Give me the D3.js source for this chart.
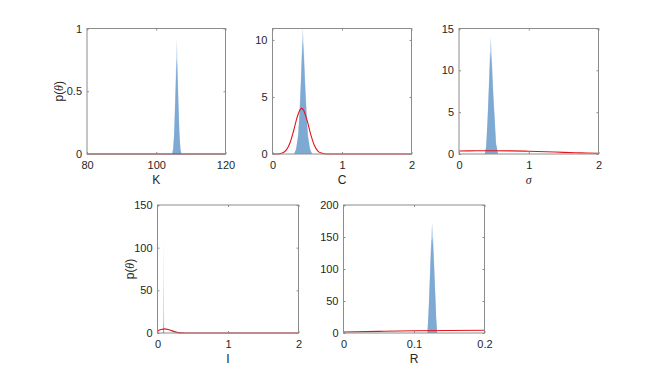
<!DOCTYPE html>
<html>
<head>
<meta charset="utf-8">
<script src="https://cdn.jsdelivr.net/npm/d3@7"></script>
<style>
  body { margin: 0; background: #fff; }
  text { font-family: "Liberation Sans", Arial, sans-serif; fill: #262626; }
  .tick line { stroke: #8c8c8c; }
</style>
</head>
<body>
<div id="chart"></div>
<script>
// parameter names and axis setup
let names = ["K", "C", "σ", "I", "R"];
let xDomains = [[80, 120], [0, 2], [0, 2], [0, 2], [0, 0.2]];
let yDomains = [[0, 1], [0, 11], [0, 15], [0, 150], [0, 200]];
let xTicks = [[80, 100, 120], [0, 1, 2], [0, 1, 2], [0, 1, 2], [0, 0.1, 0.2]];
let yTicks = [[0, 0.5, 1], [0, 5, 10], [0, 5, 10, 15], [0, 50, 100, 150], [0, 50, 100, 150, 200]];
let showYLabel = [true, false, false, true, false];

// posterior histograms (light = tallest spikes, solid = bulk)
let postX = [
  [104.6, 104.9, 105.2, 105.5, 105.8, 105.95, 106.1, 106.4, 106.7, 107.0, 107.3],
  [0.31, 0.34, 0.37, 0.39, 0.41, 0.425, 0.436, 0.45, 0.47, 0.49, 0.51, 0.54, 0.57],
  [0.37, 0.39, 0.41, 0.43, 0.445, 0.455, 0.47, 0.49, 0.51, 0.53, 0.56],
  [0.076, 0.082, 0.086, 0.09, 0.096],
  [0.119, 0.1205, 0.122, 0.1235, 0.1248, 0.1258, 0.127, 0.1285, 0.13, 0.1315, 0.1328]
];
let postLight = [
  [0, 0.05, 0.2, 0.5, 0.8, 0.92, 0.78, 0.45, 0.18, 0.04, 0],
  [0, 0.5, 1.8, 4, 7, 9.8, 11.1, 9.5, 6.5, 3.8, 1.8, 0.5, 0],
  [0, 1, 4.5, 9, 12.8, 14, 12, 8, 4.8, 1.5, 0],
  [0, 50, 111, 50, 0],
  [0, 30, 75, 125, 160, 171, 155, 115, 70, 25, 0]
];
let postSolid = [
  [0, 0.04, 0.17, 0.42, 0.68, 0.76, 0.66, 0.38, 0.15, 0.03, 0],
  [0, 0.4, 1.6, 3.6, 6.3, 8.8, 9.9, 8.6, 5.8, 3.3, 1.5, 0.4, 0],
  [0, 0.9, 4, 8, 11.2, 12.2, 10.6, 7, 4.2, 1.2, 0],
  [0, 6, 14, 6, 0],
  [0, 28, 68, 112, 142, 150, 138, 102, 62, 22, 0]
];

// prior densities (red)
let priorX = [
  [80, 100, 120],
  [0, 0.05, 0.1, 0.15, 0.2, 0.25, 0.3, 0.35, 0.4, 0.42, 0.45, 0.5, 0.55, 0.6, 0.65, 0.7, 0.75, 0.8, 1, 2],
  [0, 0.25, 0.5, 0.75, 1, 1.25, 1.5, 1.75, 2],
  [0, 0.05, 0.1, 0.15, 0.2, 0.25, 0.3, 0.35, 0.4, 1, 2],
  [0, 0.05, 0.1, 0.15, 0.2]
];
let priorY = [
  [0, 0, 0],
  [0, 0, 0.02, 0.1, 0.36, 0.94, 1.95, 3.13, 3.92, 4, 3.82, 2.9, 1.72, 0.79, 0.28, 0.08, 0.02, 0, 0, 0],
  [0.36, 0.38, 0.39, 0.37, 0.33, 0.27, 0.2, 0.14, 0.09],
  [2.5, 4, 4.8, 4.2, 2.8, 1.3, 0.4, 0.1, 0, 0, 0],
  [1.5, 2.5, 3.4, 4, 4.2]
];

// subplot boxes [left, top, width, height]
let boxes = [
  [87, 28.5, 138.5, 125.5],
  [272.5, 28.5, 139, 125.5],
  [459, 28.5, 139.5, 125.5],
  [157.5, 205, 141, 128],
  [343.5, 205, 141, 128]
];

let svg = d3.select("#chart").append("svg")
  .attr("width", 664)
  .attr("height", 374);

names.forEach((name, i) => {
  let [bx, by, bw, bh] = boxes[i];
  let g = svg.append("g").attr("transform", "translate(" + bx + "," + by + ")");

  let x = d3.scaleLinear().domain(xDomains[i]).range([0, bw]);
  let y = d3.scaleLinear().domain(yDomains[i]).range([bh, 0]);

  let clipId = "clip" + i;
  g.append("clipPath").attr("id", clipId)
    .append("rect").attr("y", -1).attr("width", bw).attr("height", bh + 2);

  let plot = g.append("g").attr("clip-path", "url(#" + clipId + ")");

  let postArea = d3.area()
    .x((d, j) => x(postX[i][j]))
    .y0(y(0))
    .y1(d => y(d));

  plot.append("path")
    .datum(postLight[i])
    .attr("fill", "#c4d9ee")
    .attr("d", postArea);

  plot.append("path")
    .datum(postSolid[i])
    .attr("fill", "#7ea9d3")
    .attr("d", postArea);

  // box
  g.append("rect")
    .attr("width", bw).attr("height", bh)
    .attr("fill", "none")
    .attr("stroke", "#8c8c8c")
    .attr("stroke-width", 1);

  let line = d3.line()
    .x((d, j) => x(priorX[i][j]))
    .y(d => y(d))
    .curve(d3.curveMonotoneX);

  plot.append("path")
    .datum(priorY[i])
    .attr("fill", "none")
    .attr("stroke", i === 0 ? "#8e1c1c" : "#e3141c")
    .attr("stroke-width", 1.1)
    .attr("d", line);

  let fmt = d => String(d);

  let xa = g.append("g").attr("transform", "translate(0," + bh + ")")
    .call(d3.axisBottom(x).tickValues(xTicks[i]).tickSize(-2).tickPadding(7.5).tickFormat(fmt));
  xa.select(".domain").remove();
  g.append("g")
    .call(d3.axisTop(x).tickValues(xTicks[i]).tickSize(-2).tickFormat(""))
    .select(".domain").remove();

  let ya = g.append("g")
    .call(d3.axisLeft(y).tickValues(yTicks[i]).tickSize(-2).tickPadding(5).tickFormat(fmt));
  ya.select(".domain").remove();
  g.append("g").attr("transform", "translate(" + bw + ",0)")
    .call(d3.axisRight(y).tickValues(yTicks[i]).tickSize(-2).tickFormat(""))
    .select(".domain").remove();

  g.selectAll(".tick text")
    .style("font-size", "11px")
    .style("font-family", "'Liberation Sans', Arial, sans-serif")
    .attr("fill", "#262626");

  // x label
  let xl = g.append("text")
    .attr("x", bw / 2)
    .attr("y", bh + 30)
    .attr("text-anchor", "middle")
    .style("font-size", "12px");
  if (name === "σ") {
    xl.style("font-family", "'Liberation Serif', serif").style("font-style", "italic").text(name);
  } else {
    xl.text(name);
  }

  if (showYLabel[i]) {
    let yl = g.append("text")
      .attr("transform", "translate(-24," + (bh / 2) + ") rotate(-90)")
      .attr("text-anchor", "middle")
      .style("font-size", "12px");
    yl.append("tspan").text("p(");
    yl.append("tspan")
      .style("font-family", "'Liberation Serif', serif")
      .style("font-style", "italic")
      .text("θ");
    yl.append("tspan").text(")");
  }
});
</script>
</body>
</html>
